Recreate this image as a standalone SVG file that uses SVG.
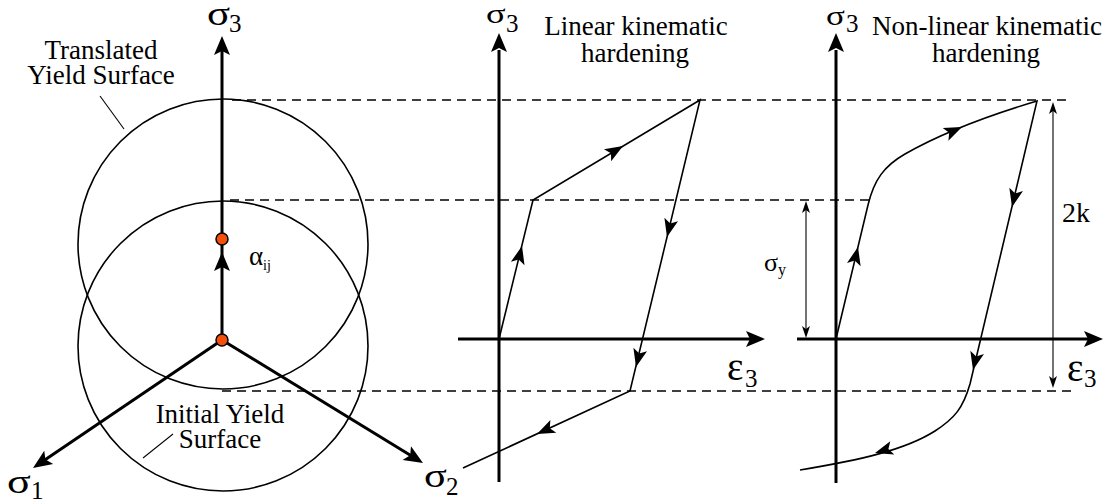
<svg xmlns="http://www.w3.org/2000/svg" xmlns:xlink="http://www.w3.org/1999/xlink" width="1113" height="501" viewBox="0 0 1113 501">
<style>
.thick{stroke:#000;stroke-width:3;fill:none}
.thin{stroke:#000;stroke-width:1.6;fill:none}
.hair{stroke:#000;stroke-width:1.1;fill:none}
.dash{stroke:#000;stroke-width:1.5;fill:none;stroke-dasharray:9 6}
.lbl{font-family:"Liberation Serif","Times New Roman",serif;fill:#000}
.gk{font-family:"Liberation Serif","Times New Roman",serif;fill:#000}
.dot{fill:#f5500a;stroke:#000;stroke-width:1.5}
</style>
<defs>
<path id="ax" d="M0,0 L-19,-8 L-15,0 L-19,8 Z" fill="#000"/>
<path id="mh" d="M0,0 L-18,-7 L-14,0 L-18,7 Z" fill="#000"/>
<path id="sh" d="M0,0 L-12,-4 L-9,0 L-12,4 Z" fill="#000"/>
</defs>
<rect width="1113" height="501" fill="#fff"/>

<g id="guides">
<line class="dash" x1="232" y1="100" x2="1070" y2="100"/>
<line class="dash" x1="230" y1="200" x2="870" y2="200"/>
<line class="dash" x1="222" y1="391" x2="1073" y2="391"/>
</g>

<g id="yield-surfaces">
<circle class="thin" cx="223" cy="244" r="145"/>
<circle class="thin" cx="223" cy="346" r="145"/>
<line class="hair" x1="100" y1="96" x2="124" y2="129"/>
<line class="hair" x1="143" y1="458" x2="173" y2="434"/>
<text class="lbl" font-size="27" text-anchor="middle" x="101" y="59">Translated</text>
<text class="lbl" font-size="27" text-anchor="middle" x="101" y="84">Yield Surface</text>
<text class="lbl" font-size="27" text-anchor="middle" x="220" y="423">Initial Yield</text>
<text class="lbl" font-size="27" text-anchor="middle" x="220" y="448">Surface</text>
</g>

<g id="principal-axes">
<line class="thick" x1="222" y1="340" x2="222" y2="50"/>
<use xlink:href="#ax" transform="translate(222,36) rotate(-90)"/>
<line class="thick" x1="222" y1="340" x2="42.9" y2="461.3"/>
<use xlink:href="#ax" transform="translate(33,468) rotate(145.9)"/>
<line class="thick" x1="222" y1="340" x2="412.8" y2="456.7"/>
<use xlink:href="#ax" transform="translate(423,463) rotate(31.5)"/>
<use xlink:href="#ax" transform="translate(222,252) rotate(-90)"/>
<circle class="dot" cx="222" cy="239" r="6"/>
<circle class="dot" cx="222" cy="340" r="6"/>
<text class="gk" font-size="33" transform="translate(207,25) scale(1.3,1)">σ</text>
<text class="lbl" font-size="25" x="229" y="32">3</text>
<text class="gk" font-size="34" transform="translate(7,493) scale(1.3,1)">σ</text>
<text class="lbl" font-size="25" x="31" y="499">1</text>
<text class="gk" font-size="34" transform="translate(424,487) scale(1.25,1)">σ</text>
<text class="lbl" font-size="25" x="446" y="495">2</text>
<text class="lbl" font-size="27" x="249" y="265">α</text>
<text class="lbl" font-size="14" x="263" y="270">ij</text>
</g>

<g id="linear-panel">
<line class="thick" x1="499" y1="482" x2="499" y2="50"/>
<use xlink:href="#ax" transform="translate(499,33) rotate(-90)"/>
<line class="thick" x1="458" y1="339" x2="750" y2="339"/>
<use xlink:href="#ax" transform="translate(765,339)"/>
<polyline class="thin" points="499,339 533,200 700,100 630,391 463,468"/>
<use xlink:href="#mh" transform="translate(522,246) rotate(-76.25)"/>
<use xlink:href="#mh" transform="translate(623,146) rotate(-30.9)"/>
<use xlink:href="#mh" transform="translate(667,237) rotate(103.5)"/>
<use xlink:href="#mh" transform="translate(636,367) rotate(103.5)"/>
<use xlink:href="#mh" transform="translate(537,434) rotate(155.25)"/>
<text class="gk" font-size="28" transform="translate(486,23) scale(1.3,1)">σ</text>
<text class="lbl" font-size="25" x="506" y="32">3</text>
<text class="lbl" font-size="39" x="727" y="380">ε</text>
<text class="lbl" font-size="25" x="745" y="387">3</text>
<text class="lbl" font-size="27" text-anchor="middle" x="636" y="35">Linear kinematic</text>
<text class="lbl" font-size="27" text-anchor="middle" x="635" y="62">hardening</text>
</g>

<g id="nonlinear-panel">
<line class="thick" x1="836" y1="483" x2="836" y2="50"/>
<use xlink:href="#ax" transform="translate(836,33) rotate(-90)"/>
<line class="thick" x1="797" y1="339" x2="1088" y2="339"/>
<use xlink:href="#ax" transform="translate(1103,339)"/>
<path class="thin" d="M836,339 L868,205 C874,180 884,166 905,154 C940,134 980,118 1037,101 L970,384 C963,408 955,418 935,431 C905,450 860,460 800,470"/>
<use xlink:href="#mh" transform="translate(858,247) rotate(-76.6)"/>
<use xlink:href="#mh" transform="translate(962,127) rotate(-24)"/>
<use xlink:href="#mh" transform="translate(1012,207) rotate(103.3)"/>
<use xlink:href="#mh" transform="translate(973,370) rotate(103.3)"/>
<use xlink:href="#mh" transform="translate(875,453) rotate(163.5)"/>
<text class="gk" font-size="28" transform="translate(826,25) scale(1.25,1)">σ</text>
<text class="lbl" font-size="25" x="846" y="32">3</text>
<text class="lbl" font-size="39" x="1067" y="381">ε</text>
<text class="lbl" font-size="25" x="1084" y="387">3</text>
<text class="lbl" font-size="27" text-anchor="middle" x="987" y="35">Non-linear kinematic</text>
<text class="lbl" font-size="27" text-anchor="middle" x="986" y="62">hardening</text>
<line class="hair" x1="806" y1="210" x2="806" y2="330"/>
<use xlink:href="#sh" transform="translate(806,201) rotate(-90)"/>
<use xlink:href="#sh" transform="translate(806,338) rotate(90)"/>
<text class="lbl" font-size="26" x="764" y="271">σ</text>
<text class="lbl" font-size="16" x="778" y="275">y</text>
<line class="hair" x1="1053" y1="110" x2="1053" y2="380"/>
<use xlink:href="#sh" transform="translate(1053,102) rotate(-90)"/>
<use xlink:href="#sh" transform="translate(1053,388) rotate(90)"/>
<text class="lbl" font-size="28" x="1062" y="222">2k</text>
</g>
</svg>
